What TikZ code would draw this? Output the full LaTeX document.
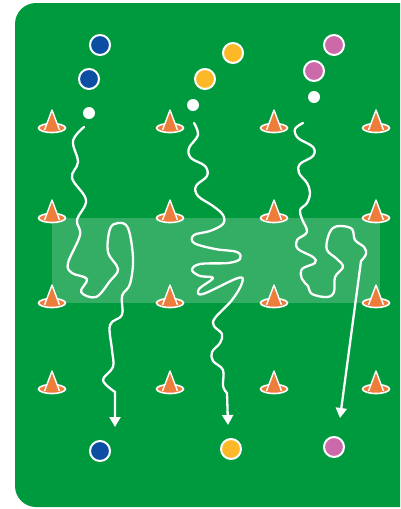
\documentclass[tikz,border=0pt]{standalone}
\usetikzlibrary{arrows.meta}
\definecolor{fieldgreen}{HTML}{009A3E}
\definecolor{pblue}{HTML}{0B4EA2}
\definecolor{pyellow}{HTML}{FDB827}
\definecolor{ppink}{HTML}{CC69A8}
\definecolor{coneorange}{HTML}{EE7D3B}
\begin{document}
\begin{tikzpicture}[x=1pt,y=-1pt,
  player/.style={circle,draw=white,line width=2pt,minimum size=20pt,inner sep=0pt},
  ball/.style={circle,fill=white,minimum size=12pt,inner sep=0pt},
  run/.style={white,line width=2.3pt,line cap=round,line join=round},
  runarrow/.style={run,-{Triangle[width=11pt,length=10pt]}},
  cone/.pic={
    \fill[coneorange,draw=white,line width=1.6pt] (0,0) ellipse [x radius=13.5,y radius=4.5];
    \fill[coneorange] (-7,2) -- (0,-18) -- (7,2) -- cycle;
    \draw[white,line width=1.4pt,line join=round] (-7.5,2) -- (0,-18) -- (7.5,2);
  }]
\useasboundingbox (0,0) rectangle (400,509);
\clip (0,0) rectangle (400,509);
% field
\fill[fieldgreen,rounded corners=21pt] (15,3) rectangle (440,507);
% light zone
\fill[white,opacity=0.2] (52,218) rectangle (380,303);
% cones
\foreach \cx in {52,170,274,376}
  \foreach \cy in {128,218,303,389}
    \pic at (\cx,\cy) {cone};
% start and end points of the runs
\coordinate (s1) at (84,127);
\coordinate (e1) at (115,427);
\coordinate (s2) at (194,123);
\coordinate (e2) at (228,425);
\coordinate (s3) at (303,123);
\coordinate (e3) at (340,418);
% runs
\draw[runarrow] plot[smooth,tension=0.6] coordinates {(s1) (73,141) (78,162) (72,178) (86,200) (77,220) (80,235) (68,263) (72,273) (87,279) (81,292) (96,297) (110,281) (118,269) (108,252) (110,229) (118,223) (128,228) (133,258) (130,284) (122,296) (122,315) (110,325) (112,350) (113,367) (103,380) (115,392)} -- (e1);
\draw[runarrow] plot[smooth,tension=0.6] coordinates {(s2) (198,135) (189,148) (191,158) (205,166) (207,176) (196,186) (198,196) (213,206) (223,215) (223,224) (210,231) (194,235) (194,243) (215,249) (237,252) (240,259) (228,263) (200,264) (192,270) (200,276) (213,278) (199,289) (203,294) (238,278) (242,283) (232,300) (215,318) (214,326) (222,334) (220,343) (212,352) (213,361) (223,370) (223,386) (227,393)} -- (e2);
\draw[runarrow] plot[smooth,tension=0.6] coordinates {(s3) (295,129) (298,138) (313,147) (313,156) (300,164) (299,173) (307,183) (310,193) (307,203) (300,210) (302,219) (307,232) (297,240) (298,249) (313,257) (315,263) (302,269) (302,279) (308,286) (312,294) (327,297) (334,292) (335,277) (343,267) (337,259) (327,250) (328,237) (333,228) (341,226) (352,229) (355,240) (364,247) (366,254) (361,261)} -- (e3);
% balls
\node[ball] (b1) at (89,113) {};
\node[ball] (b2) at (193,105) {};
\node[ball] (b3) at (314,97) {};
% players
\node[player,fill=pblue] (bl1) at (100,45) {};
\node[player,fill=pblue] (bl2) at (89,79) {};
\node[player,fill=pblue] (bl3) at (100,451) {};
\node[player,fill=pyellow] (y1) at (233,53) {};
\node[player,fill=pyellow] (y2) at (205,79) {};
\node[player,fill=pyellow] (y3) at (231,449) {};
\node[player,fill=ppink] (p1) at (334,45) {};
\node[player,fill=ppink] (p2) at (314,71) {};
\node[player,fill=ppink] (p3) at (334,447) {};
\end{tikzpicture}
\end{document}
